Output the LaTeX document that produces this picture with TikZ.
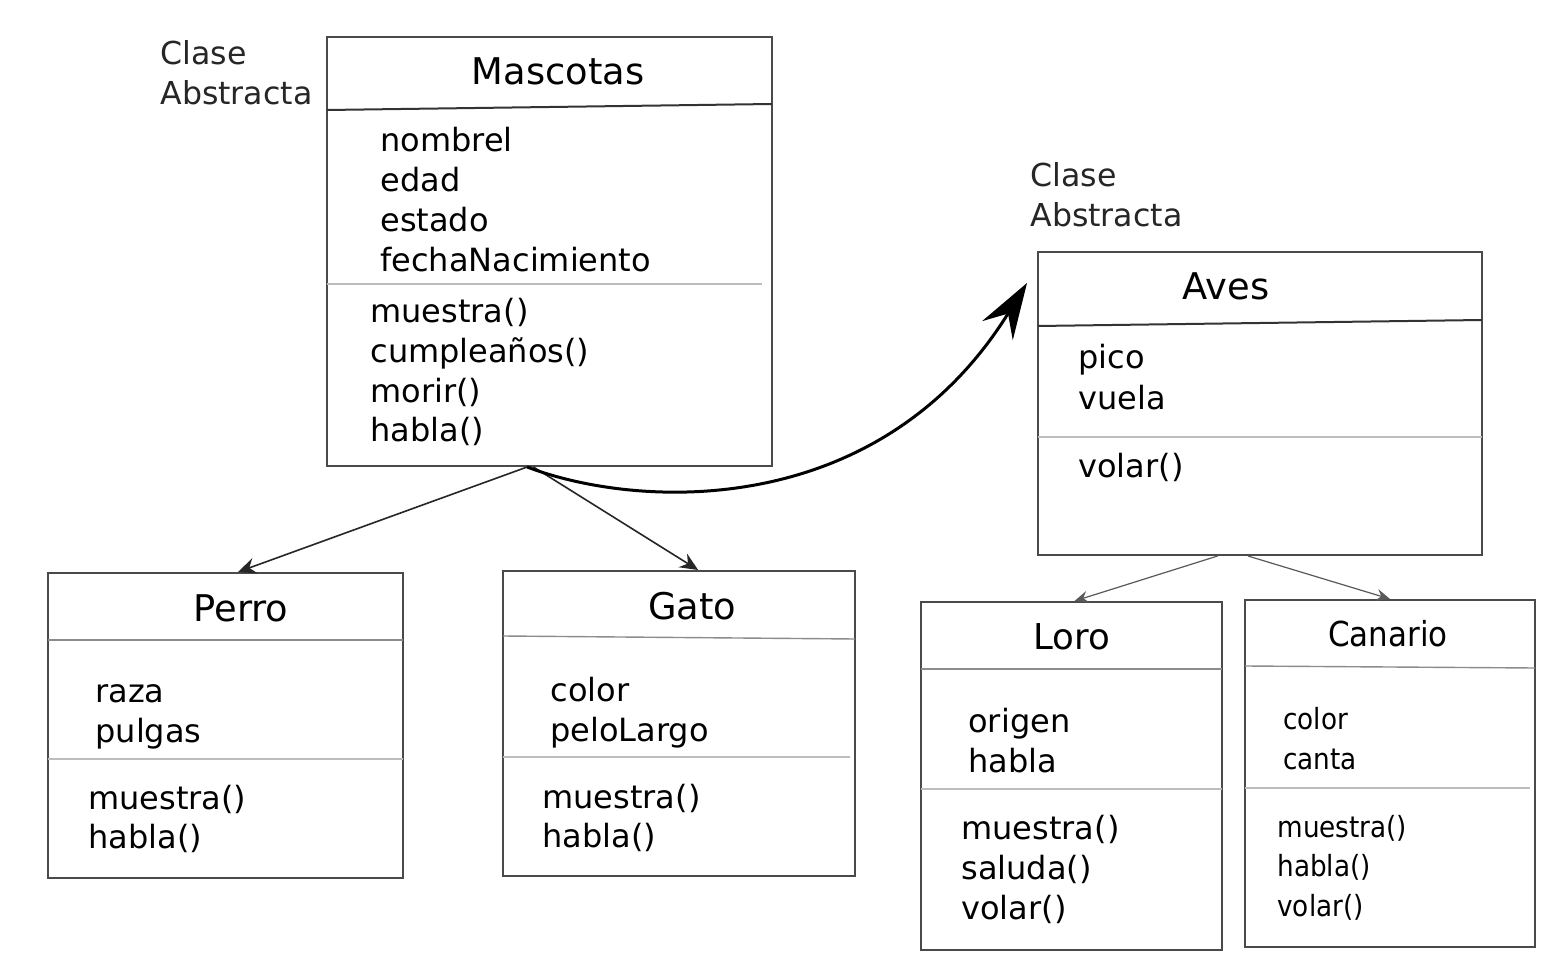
\documentclass[tikz,border=0pt]{standalone}
\usepackage{fontspec}
\setmainfont{DejaVu Sans}
\newfontfamily\condfont[FakeStretch=0.9]{DejaVu Sans}
\usetikzlibrary{calc,fit,arrows.meta}
\definecolor{boxline}{HTML}{4A4A4A}
\definecolor{divdark}{HTML}{333333}
\definecolor{divmid}{HTML}{8C8C8C}
\definecolor{divlight}{HTML}{BDBDBD}
\tikzset{
  umlbox/.style={draw=boxline, line width=1pt, inner sep=0pt},
  attr/.style={anchor=base west, inner sep=0pt, font=\fontsize{16}{20}\selectfont},
  cattr/.style={anchor=base west, inner sep=0pt, font=\condfont\fontsize{14.6}{18}\selectfont},
  ttl/.style={anchor=base, inner sep=0pt, font=\fontsize{18.4}{22}\selectfont},
  note/.style={anchor=base west, inner sep=0pt, font=\fontsize{15.8}{20}\selectfont, text=black!85},
  divd/.style={draw=divdark, line width=1pt},
  divm/.style={draw=divmid, line width=0.7pt},
  divl/.style={draw=divlight, line width=0.6pt},
  inh/.style={draw=black!85, line width=0.8pt, -{Stealth[length=9pt,width=8pt,inset=3pt]}},
  inhs/.style={draw=black!65, line width=0.6pt, -{Stealth[length=7pt,width=6pt,inset=2.5pt]}},
  bigarrow/.style={draw=black, line width=1.5pt, -{Stealth[length=28pt,width=18pt,inset=10pt]}}
}
\begin{document}
\begin{tikzpicture}[x=0.5pt,y=-0.5pt]
\useasboundingbox[fill=white] (0,0) rectangle (1554,968);

% ---------- Mascotas ----------
\node[umlbox, fit={(327,37) (772,466)}] (masc) {};
\draw[divd] (327,110) -- (772,104);
\draw[divl] (327,284) -- (762,284);
\node[ttl] (masc-t) at (558,85) {Mascotas};
\node[attr] (masc-a1) at (380,152) {nombrel};
\node[attr] (masc-a2) at (380,192) {edad};
\node[attr] (masc-a3) at (380,232) {estado};
\node[attr] (masc-a4) at (380,272) {fechaNacimiento};
\node[attr] (masc-m1) at (370,323) {muestra()};
\node[attr] (masc-m2) at (370,363) {cumpleaños()};
\node[attr] (masc-m3) at (370,402) {morir()};
\node[attr] (masc-m4) at (370,442) {habla()};
\node[note] (note1a) at (160,65) {Clase};
\node[note] (note1b) at (160,105) {Abstracta};

% ---------- Aves ----------
\node[umlbox, fit={(1038,252) (1482,555)}] (aves) {};
\draw[divd] (1038,326) -- (1482,320);
\draw[divl] (1038,437) -- (1482,437);
\node[ttl] (aves-t) at (1226,300) {Aves};
\node[attr] (aves-a1) at (1078,369) {pico};
\node[attr] (aves-a2) at (1078,409) {vuela};
\node[attr] (aves-m1) at (1078,477) {volar()};
\node[note] (note2a) at (1030,187) {Clase};
\node[note] (note2b) at (1030,227) {Abstracta};

% ---------- Perro ----------
\node[umlbox, fit={(48,573) (403,878)}] (perro) {};
\draw[divm] (48,640) -- (403,640);
\draw[divl] (48,759) -- (403,759);
\node[ttl] (perro-t) at (241,621) {Perro};
\node[attr] (perro-a1) at (95,702) {raza};
\node[attr] (perro-a2) at (95,742) {pulgas};
\node[attr] (perro-m1) at (88,809) {muestra()};
\node[attr] (perro-m2) at (88,848) {habla()};

% ---------- Gato ----------
\node[umlbox, fit={(503,571) (855,876)}] (gato) {};
\draw[divm] (503,636) -- (855,639);
\draw[divl] (503,757) -- (850,757);
\node[ttl] (gato-t) at (692,619) {Gato};
\node[attr] (gato-a1) at (550,701) {color};
\node[attr] (gato-a2) at (550,741) {peloLargo};
\node[attr] (gato-m1) at (542,808) {muestra()};
\node[attr] (gato-m2) at (542,847) {habla()};

% ---------- Loro ----------
\node[umlbox, fit={(921,602) (1222,950)}] (loro) {};
\draw[divm] (921,669) -- (1222,669);
\draw[divl] (921,789) -- (1222,789);
\node[ttl, font=\fontsize{17.8}{22}\selectfont] (loro-t) at (1072,649) {Loro};
\node[attr] (loro-a1) at (968,732) {origen};
\node[attr] (loro-a2) at (968,772) {habla};
\node[attr] (loro-m1) at (961,839) {muestra()};
\node[attr] (loro-m2) at (961,879) {saluda()};
\node[attr] (loro-m3) at (961,919) {volar()};

% ---------- Canario ----------
\node[umlbox, fit={(1245,600) (1535,947)}] (canario) {};
\draw[divm] (1245,666) -- (1535,668);
\draw[divl] (1245,788) -- (1530,788);
\node[ttl, font=\condfont\fontsize{17.2}{22}\selectfont] (canario-t) at (1388,646) {Canario};
\node[cattr] (canario-a1) at (1283,729) {color};
\node[cattr] (canario-a2) at (1283,769) {canta};
\node[cattr] (canario-m1) at (1277,837) {muestra()};
\node[cattr] (canario-m2) at (1277,876) {habla()};
\node[cattr] (canario-m3) at (1277,916) {volar()};

% ---------- connectors ----------
\coordinate (mroot) at ($(masc.south west)!0.45!(masc.south east)$);
\coordinate (mroot2) at ($(masc.south west)!0.464!(masc.south east)$);
\coordinate (perro-in) at ($(perro.north west)!0.535!(perro.north east)$);
\coordinate (gato-in) at ($(gato.north west)!0.554!(gato.north east)$);
\coordinate (aves-out1) at ($(aves.south west)!0.405!(aves.south east)$);
\coordinate (aves-out2) at ($(aves.south west)!0.473!(aves.south east)$);
\coordinate (loro-in) at ($(loro.north west)!0.51!(loro.north east)$);
\coordinate (canario-in) at ($(canario.north west)!0.5!(canario.north east)$);
\coordinate (aves-target) at (1027,283);

\draw[inh] (mroot) -- (perro-in);
\draw[inh] (mroot2) -- (gato-in);
\draw[bigarrow] (mroot) .. controls (640,510) and (880,520) .. (aves-target);
\draw[inhs] (aves-out1) -- (loro-in);
\draw[inhs] (aves-out2) -- (canario-in);
\end{tikzpicture}
\end{document}
